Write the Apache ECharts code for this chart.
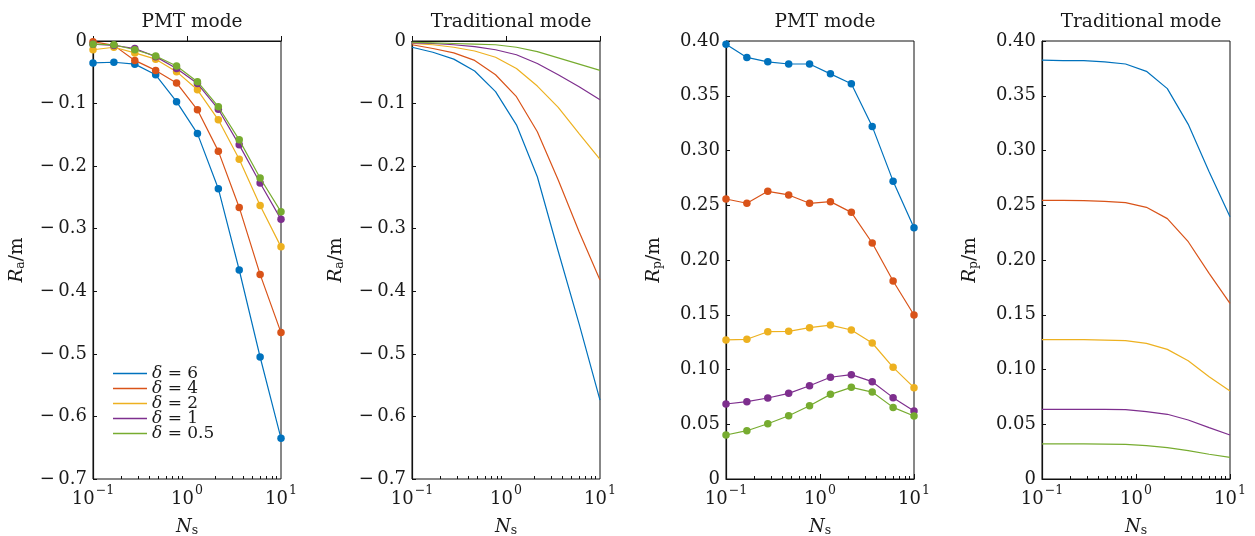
<!DOCTYPE html>
<html>
<head>
<meta charset="utf-8">
<script src="https://cdn.jsdelivr.net/npm/echarts@6/dist/echarts.min.js"></script>
<style>
  html, body { margin: 0; padding: 0; background: #fff; }
  #chart { width: 1255px; height: 536px; }
</style>
</head>
<body>
<div id="chart"></div>
<script>
// Sampling points of N_s (log-spaced from 0.1 to 10)
const ns = [0.1, 0.1668, 0.2783, 0.4642, 0.7743, 1.2915, 2.1544, 3.5938, 5.9948, 10];
const deltas = ['6', '4', '2', '1', '0.5'];
const colors = ['#0072BD', '#D95319', '#EDB120', '#7E2F8E', '#77AC30'];
const panelTitles = ['PMT mode', 'Traditional mode', 'PMT mode', 'Traditional mode'];
const minorTickValues = [0.2, 0.3, 0.4, 0.5, 0.6, 0.7, 0.8, 0.9, 2, 3, 4, 5, 6, 7, 8, 9];

// R_a, PMT mode (rows: delta = 6, 4, 2, 1, 0.5)
const raPMT = [
  [-0.035, -0.034, -0.037, -0.054, -0.097, -0.148, -0.236, -0.366, -0.505, -0.635],
  [-0.001, -0.007, -0.031, -0.047, -0.067, -0.110, -0.176, -0.266, -0.373, -0.466],
  [-0.014, -0.010, -0.019, -0.029, -0.049, -0.078, -0.126, -0.189, -0.263, -0.329],
  [-0.005, -0.007, -0.012, -0.025, -0.044, -0.068, -0.109, -0.166, -0.227, -0.285],
  [-0.005, -0.006, -0.014, -0.024, -0.040, -0.065, -0.105, -0.158, -0.219, -0.273]
];
// R_a, traditional mode
const raTrad = [
  [-0.010, -0.018, -0.029, -0.048, -0.081, -0.134, -0.217, -0.336, -0.452, -0.574],
  [-0.006, -0.012, -0.019, -0.031, -0.054, -0.089, -0.145, -0.222, -0.305, -0.382],
  [-0.004, -0.006, -0.010, -0.016, -0.026, -0.044, -0.072, -0.106, -0.148, -0.189],
  [-0.003, -0.004, -0.006, -0.009, -0.014, -0.022, -0.036, -0.054, -0.073, -0.094],
  [-0.002, -0.003, -0.004, -0.005, -0.006, -0.010, -0.017, -0.027, -0.037, -0.047]
];
// R_p, PMT mode
const rpPMT = [
  [0.397, 0.385, 0.381, 0.379, 0.379, 0.370, 0.361, 0.322, 0.272, 0.2295],
  [0.2557, 0.2518, 0.2627, 0.2594, 0.2518, 0.2533, 0.2435, 0.2155, 0.1808, 0.1498],
  [0.127, 0.1276, 0.1345, 0.1349, 0.1382, 0.1406, 0.1361, 0.1242, 0.102, 0.0834],
  [0.0685, 0.0706, 0.074, 0.0782, 0.0852, 0.0929, 0.0953, 0.0889, 0.0743, 0.0621],
  [0.0402, 0.0441, 0.0505, 0.0578, 0.0669, 0.0773, 0.0837, 0.0794, 0.0654, 0.0575]
];
// R_p, traditional mode
const rpTrad = [
  [0.3826, 0.382, 0.382, 0.381, 0.379, 0.3723, 0.3565, 0.3239, 0.2807, 0.2396],
  [0.2545, 0.2545, 0.2543, 0.2536, 0.2524, 0.2481, 0.2378, 0.2167, 0.1878, 0.1604],
  [0.1272, 0.1272, 0.1272, 0.1269, 0.1263, 0.1239, 0.1184, 0.108, 0.0934, 0.0804],
  [0.0636, 0.0636, 0.0636, 0.0635, 0.0633, 0.0615, 0.0591, 0.0539, 0.0469, 0.0402],
  [0.032, 0.032, 0.032, 0.0319, 0.0316, 0.0304, 0.0286, 0.0259, 0.0226, 0.0198]
];

const FONT = 'DejaVu Serif';
const INK = '#1a1a1a';

const panels = [
  { data: raPMT,  markers: true,  kind: 'a' },
  { data: raTrad, markers: false, kind: 'a' },
  { data: rpPMT,  markers: true,  kind: 'p' },
  { data: rpTrad, markers: false, kind: 'p' }
];
const gridLefts = [93, 412, 726, 1042];
const gridWidth = 188;

const grid = [], xAxis = [], yAxis = [], series = [], title = [];

const supRich = {
  b: { fontFamily: FONT, fontSize: 18, color: INK, lineHeight: 24, verticalAlign: 'bottom' },
  sup: { fontFamily: FONT, fontSize: 12.5, color: INK, lineHeight: 24, verticalAlign: 'top', padding: [0, 0, 9, 1] }
};

panels.forEach((p, k) => {
  grid.push({
    left: gridLefts[k], top: 41, width: gridWidth, height: 438,
    outerBoundsMode: 'none', containLabel: false,
    show: true, borderColor: '#111', borderWidth: 1, backgroundColor: 'transparent'
  });
  title.push({
    text: panelTitles[k],
    left: gridLefts[k] + gridWidth / 2, top: 8, textAlign: 'center',
    textStyle: { fontFamily: FONT, fontSize: 18.5, fontWeight: 'normal', color: INK }
  });
  // main log axis with labels and major ticks
  xAxis.push({
    type: 'log', logBase: 10, min: 0.1, max: 10, gridIndex: k, position: 'bottom',
    name: '{i|N}{s|s}', nameLocation: 'middle', nameGap: 38,
    nameTextStyle: {
      rich: {
        i: { fontFamily: FONT, fontStyle: 'italic', fontSize: 18, color: INK },
        s: { fontFamily: FONT, fontSize: 12.5, color: INK, verticalAlign: 'bottom', padding: [7, 0, 0, 0] }
      }
    },
    axisLine: { show: true, lineStyle: { color: '#111', width: 1.2 } },
    axisTick: { show: true, inside: true, length: 5, lineStyle: { color: '#111' } },
    splitLine: { show: false },
    minorTick: { show: false },
    axisLabel: {
      margin: 5,
      formatter: v => '{b|10}{sup|' + String(Math.round(Math.log10(v))).replace('-', '\u2212') + '}',
      rich: supRich
    }
  });
  // companion axis carrying the minor ticks (2..9 within each decade)
  xAxis.push({
    type: 'log', logBase: 10, min: 0.1, max: 10, gridIndex: k, position: 'bottom',
    axisLine: { show: false },
    axisTick: { show: true, inside: true, length: 3, customValues: minorTickValues, lineStyle: { color: '#111' } },
    axisLabel: { show: false },
    splitLine: { show: false }
  });
  const isA = p.kind === 'a';
  yAxis.push({
    type: 'value', gridIndex: k,
    min: isA ? -0.7 : 0, max: isA ? 0 : 0.4, interval: isA ? 0.1 : 0.05,
    name: '{i|R}{s|' + p.kind + '}{t|/m}', nameLocation: 'middle', nameRotate: 90,
    nameGap: k < 2 ? 66 : 62,
    nameTextStyle: {
      rich: {
        i: { fontFamily: FONT, fontStyle: 'italic', fontSize: 18.5, color: INK },
        s: { fontFamily: FONT, fontSize: 12.5, color: INK, verticalAlign: 'bottom', padding: [7, 0, 0, 0] },
        t: { fontFamily: FONT, fontSize: 18.5, color: INK }
      }
    },
    axisLine: { show: true, lineStyle: { color: '#111', width: 1.2 } },
    axisTick: { show: true, inside: true, length: 4, lineStyle: { color: '#111' } },
    splitLine: { show: false },
    axisLabel: {
      margin: 6, fontFamily: FONT, fontSize: 18, color: INK,
      formatter: v => {
        if (Math.abs(v) < 1e-9) return '0';
        if (isA) return '\u2212\u2009' + Math.abs(v).toFixed(1);
        return v.toFixed(2);
      }
    }
  });
  p.data.forEach((row, j) => {
    series.push({
      type: 'line', name: '\u03b4 = ' + deltas[j],
      xAxisIndex: 2 * k, yAxisIndex: k,
      data: ns.map((x, i) => [x, row[i]]),
      color: colors[j],
      lineStyle: { width: 1.2, color: colors[j] },
      showSymbol: p.markers, symbol: 'circle', symbolSize: 7.5,
      itemStyle: { color: colors[j] },
      clip: true, animation: false, z: 2 + j
    });
  });
});

const chart = echarts.init(document.getElementById('chart'), null, { renderer: 'canvas' });
chart.setOption({
  backgroundColor: '#fff',
  animation: false,
  title: title,
  grid: grid,
  xAxis: xAxis,
  yAxis: yAxis,
  legend: {
    data: deltas.map(d => '\u03b4 = ' + d),
    orient: 'vertical', left: 113, top: 365,
    icon: 'rect', itemWidth: 34, itemHeight: 1.5, itemGap: -2, padding: 0,
    selectedMode: false,
    formatter: name => '{i|\u03b4}{n|' + name.slice(1) + '}',
    textStyle: {
      rich: {
        i: { fontFamily: FONT, fontStyle: 'italic', fontSize: 17, color: INK, lineHeight: 15 },
        n: { fontFamily: FONT, fontSize: 17, color: INK, lineHeight: 15 }
      }
    }
  },
  series: series
});
</script>
</body>
</html>
